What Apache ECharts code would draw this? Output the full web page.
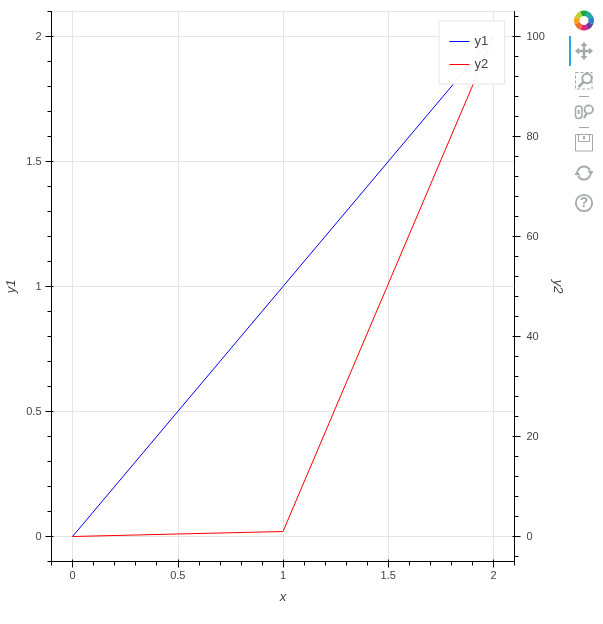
<!DOCTYPE html>
<html>
<head>
<meta charset="utf-8">
<title>y1 y2</title>
<script src="https://cdn.jsdelivr.net/npm/echarts@6/dist/echarts.min.js"></script>
<style>
	html, body { margin: 0; padding: 0; background: #fff; }
	#main { width: 603px; height: 624px; }
</style>
</head>
<body>
<div id="main"></div>
<script>
// data
var xValues = [0, 1, 2];
var y1Values = [0, 1, 2];
var y2Values = [0, 1, 100];

// ticks
var xMajor = [0, 0.5, 1, 1.5, 2];
var xMinor = [-0.1, 0.1, 0.2, 0.3, 0.4, 0.6, 0.7, 0.8, 0.9, 1.1, 1.2, 1.3, 1.4, 1.6, 1.7, 1.8, 1.9, 2.1];
var y1Major = [0, 0.5, 1, 1.5, 2];
var y1Minor = [-0.1, 0.1, 0.2, 0.3, 0.4, 0.6, 0.7, 0.8, 0.9, 1.1, 1.2, 1.3, 1.4, 1.6, 1.7, 1.8, 1.9, 2.1];
var y2Major = [0, 20, 40, 60, 80, 100];
var y2Minor = [-4, 4, 8, 12, 16, 24, 28, 32, 36, 44, 48, 52, 56, 64, 68, 72, 76, 84, 88, 92, 96, 104];

var textColor = '#444444';
var gridColor = '#e5e5e5';
var toolColor = '#a6a8aa';
var fontName = 'Liberation Sans';

function pairs(xs, ys) {
	var out = [];
	for (var i = 0; i < xs.length; i++) {
		out.push([xs[i], ys[i]]);
	}
	return out;
}

// bokeh ticks go out 6px (major), in 2px (major), out 4px (minor), so each axis is 3 layers
function layers(base, major, minor, main) {
	function make(extra) {
		var a = {
			type: 'value',
			min: base.min,
			max: base.max,
			position: base.position,
			silent: true,
			axisLine: { show: false, onZero: false },
			axisLabel: { show: false },
			splitLine: { show: false }
		};
		for (var k in extra) {
			a[k] = extra[k];
		}
		return a;
	}
	return [
		make({
			name: main.name,
			nameLocation: 'middle',
			nameGap: main.nameGap,
			nameRotate: main.nameRotate,
			nameMoveOverlap: false,
			nameTextStyle: { color: textColor, fontSize: 13, fontStyle: 'italic', fontFamily: fontName },
			axisLine: { show: true, onZero: false, lineStyle: { color: '#000', width: 1 } },
			axisTick: { show: true, length: 6, customValues: major, lineStyle: { color: '#000', width: 1 } },
			axisLabel: { show: true, margin: main.margin, padding: main.labelPadding, customValues: major, color: textColor, fontSize: 11, fontFamily: fontName },
			splitLine: { show: main.split, lineStyle: { color: gridColor, width: 1 } }
		}),
		make({
			axisTick: { show: true, length: 4, customValues: minor, lineStyle: { color: '#000', width: 1 } }
		}),
		make({
			axisTick: { show: true, inside: true, length: 2, customValues: major, lineStyle: { color: '#000', width: 1 } }
		})
	];
}

var xAxes = layers({ min: -0.1, max: 2.1, position: 'bottom' }, xMajor, xMinor,
	{ name: 'x', nameGap: 29, margin: 9, labelPadding: 0, split: true });
var yAxes = layers({ min: -0.1, max: 2.1, position: 'left' }, y1Major, y1Minor,
	{ name: 'y1', nameGap: 34, nameRotate: 90, margin: 10, labelPadding: [1, 0, 0, 0], split: true })
	.concat(layers({ min: -5, max: 105, position: 'right' }, y2Major, y2Minor,
		{ name: 'y2', nameGap: 37, nameRotate: -90, margin: 12, labelPadding: [3, 0, 0, 0], split: false }));

// toolbar
function stroke(width, dash) {
	return { fill: 'none', stroke: toolColor, lineWidth: width, lineDash: dash };
}

function petal(start, color) {
	return {
		type: 'sector',
		shape: { cx: 584, cy: 20.5, r: 10, r0: 4.5, startAngle: start, endAngle: start + Math.PI / 4 },
		style: { fill: color }
	};
}

var panIcon = [[584, 42], [587.5, 46], [585.2, 46], [585.2, 49.8], [589, 49.8], [589, 47.5], [593, 51], [589, 54.5], [589, 52.2], [585.2, 52.2], [585.2, 56], [587.5, 56], [584, 60], [580.5, 56], [582.8, 56], [582.8, 52.2], [579, 52.2], [579, 54.5], [575, 51], [579, 47.5], [579, 49.8], [582.8, 49.8], [582.8, 46], [580.5, 46]];

var logoColors = ['#6a3d9a', '#e3247c', '#f26b2d', '#f9a11b', '#b6d333', '#1fa34a', '#1ea8a0', '#2a7fc4'];
var toolbar = [];
for (var i = 0; i < logoColors.length; i++) {
	toolbar.push(petal(i * Math.PI / 4 + Math.PI / 8, logoColors[i]));
}
toolbar = toolbar.concat([
	// active marker
	{ type: 'rect', shape: { x: 569, y: 36, width: 2, height: 30 }, style: { fill: '#26aae1' } },
	// pan
	{ type: 'polygon', shape: { points: panIcon }, style: { fill: toolColor } },
	// box zoom
	{ type: 'rect', shape: { x: 575.5, y: 72.5, width: 16.5, height: 16.5 }, style: stroke(1, [3, 2]) },
	{ type: 'circle', shape: { cx: 587, cy: 78.5, r: 4.7 }, style: { fill: '#fff', stroke: toolColor, lineWidth: 2 } },
	{ type: 'line', shape: { x1: 583.5, y1: 82, x2: 578.5, y2: 87 }, style: stroke(2.5) },
	// separator
	{ type: 'line', shape: { x1: 579, y1: 96.5, x2: 589, y2: 96.5 }, style: stroke(1) },
	// wheel zoom
	{ type: 'rect', shape: { x: 575.5, y: 106, width: 6.5, height: 12.5, r: 3.2 }, style: stroke(1.5) },
	{ type: 'line', shape: { x1: 578.7, y1: 110, x2: 578.7, y2: 114 }, style: stroke(2) },
	{ type: 'circle', shape: { cx: 588.7, cy: 109.5, r: 4.2 }, style: stroke(1.8) },
	{ type: 'line', shape: { x1: 586.5, y1: 113.5, x2: 584, y2: 118 }, style: stroke(2.2) },
	// separator
	{ type: 'line', shape: { x1: 579, y1: 127.5, x2: 589, y2: 127.5 }, style: stroke(1) },
	// save
	{ type: 'rect', shape: { x: 575.5, y: 134.5, width: 17, height: 16.5 }, style: stroke(1) },
	{ type: 'rect', shape: { x: 578.5, y: 134.5, width: 11, height: 7 }, style: stroke(1) },
	{ type: 'rect', shape: { x: 583, y: 136, width: 2, height: 3.5 }, style: { fill: toolColor } },
	// reset
	{ type: 'arc', shape: { cx: 584, cy: 173, r: 6.6, startAngle: Math.PI * 1.1, endAngle: Math.PI * 1.85 }, style: stroke(2) },
	{ type: 'arc', shape: { cx: 584, cy: 173, r: 6.6, startAngle: Math.PI * 0.1, endAngle: Math.PI * 0.85 }, style: stroke(2) },
	{ type: 'polygon', shape: { points: [[587.5, 170.5], [593.5, 171], [591, 175.5]] }, style: { fill: toolColor } },
	{ type: 'polygon', shape: { points: [[580.5, 175.5], [574.5, 175], [577, 170.5]] }, style: { fill: toolColor } },
	// help
	{ type: 'circle', shape: { cx: 584, cy: 203, r: 8.2 }, style: stroke(1.8) },
	{ type: 'text', x: 584, y: 203.5, style: { text: '?', fill: toolColor, fontSize: 14, fontWeight: 'bold', fontFamily: fontName, align: 'center', verticalAlign: 'middle' } }
]);

var chart = echarts.init(document.getElementById('main'), null, { renderer: 'canvas' });
chart.setOption({
	animation: false,
	backgroundColor: '#fff',
	grid: {
		left: 51.5,
		right: 88.5,
		top: 11.5,
		bottom: 62.5,
		outerBoundsMode: 'none',
		show: true,
		borderColor: gridColor,
		borderWidth: 1,
		backgroundColor: 'transparent'
	},
	legend: {
		orient: 'vertical',
		left: 439,
		top: 21,
		padding: [14, 16.5, 13, 10.5],
		icon: 'rect',
		itemWidth: 20,
		itemHeight: 1,
		itemGap: 10,
		backgroundColor: 'rgba(255,255,255,0.95)',
		borderColor: gridColor,
		borderWidth: 1,
		textStyle: { color: textColor, fontSize: 13, fontFamily: fontName },
		data: ['y1', 'y2']
	},
	xAxis: xAxes,
	yAxis: yAxes,
	series: [
		{
			name: 'y1',
			type: 'line',
			xAxisIndex: 0,
			yAxisIndex: 0,
			symbol: 'none',
			lineStyle: { color: '#0000ff', width: 1 },
			itemStyle: { color: '#0000ff' },
			data: pairs(xValues, y1Values)
		},
		{
			name: 'y2',
			type: 'line',
			xAxisIndex: 0,
			yAxisIndex: 3,
			symbol: 'none',
			lineStyle: { color: '#ff0000', width: 1 },
			itemStyle: { color: '#ff0000' },
			data: pairs(xValues, y2Values)
		}
	],
	graphic: { elements: toolbar }
});
</script>
</body>
</html>
